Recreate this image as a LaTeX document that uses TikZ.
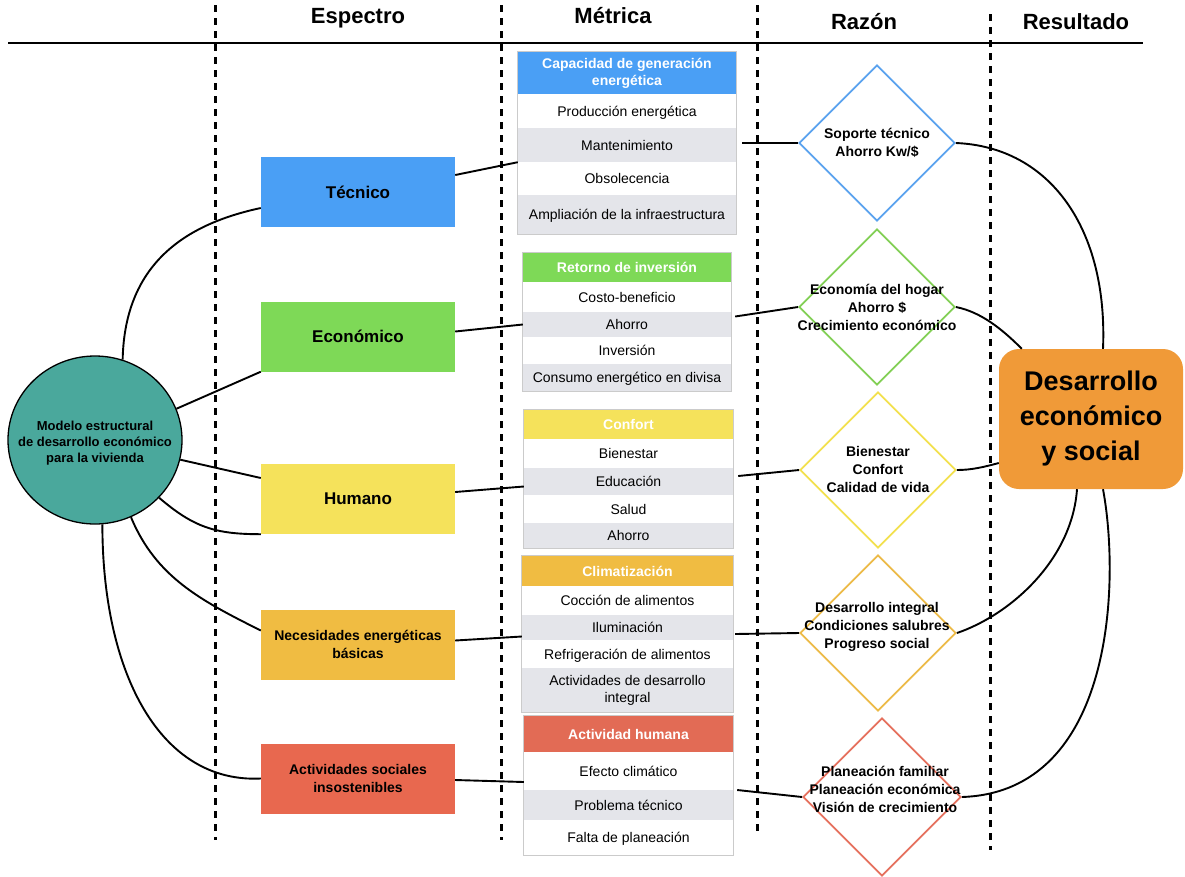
\documentclass[tikz,border=0pt]{standalone}
\usepackage{fontspec}
\setmainfont{Liberation Sans}
\usetikzlibrary{shapes.geometric,calc,fit}
\definecolor{cblue}{HTML}{4A9FF5}
\definecolor{cgreen}{HTML}{7ED957}
\definecolor{cyellow}{HTML}{F5E25B}
\definecolor{corange}{HTML}{F0BC42}
\definecolor{cred}{HTML}{E8684F}
\definecolor{dblue}{HTML}{5AA2EE}
\definecolor{dgreen}{HTML}{82CF55}
\definecolor{dyellow}{HTML}{F2E04E}
\definecolor{dorange}{HTML}{ECBA47}
\definecolor{dred}{HTML}{E5705D}
\definecolor{hred}{HTML}{E26B55}
\definecolor{cteal}{HTML}{4AA89C}
\definecolor{cres}{HTML}{F09A38}
\definecolor{rowgray}{HTML}{E4E5EA}
\definecolor{tabline}{HTML}{CBCBCB}
\begin{document}
\begin{tikzpicture}[x=1pt,y=-1pt,
  hdr/.style={font=\fontsize{22}{26}\selectfont\bfseries, inner sep=0pt},
  spec/.style={minimum width=194pt, minimum height=70pt, inner sep=2pt, align=center, font=\fontsize{17}{20}\selectfont\bfseries},
  spectwo/.style={spec, font=\fontsize{14}{18}\selectfont\bfseries},
  row/.style={inner sep=0pt, font=\fontsize{14}{17}\selectfont, text height=10pt, text depth=0pt},
  rowml/.style={inner sep=0pt, align=center, font=\fontsize{14}{17}\selectfont},
  thead/.style={row, text=white, font=\fontsize{14}{17}\selectfont\bfseries},
  theadml/.style={rowml, text=white, font=\fontsize{14}{17}\selectfont\bfseries},
  tabframe/.style={draw=tabline, line width=1pt, inner sep=0pt},
  dia/.style={diamond, aspect=1, inner sep=0pt, line width=1.8pt, minimum width=156pt, minimum height=156pt},
  diatext/.style={align=center, inner sep=0pt, font=\fontsize{14}{18}\selectfont\bfseries},
  conn/.style={line width=1.9pt, black},
  sep/.style={line width=3pt, dash pattern=on 7pt off 6pt}
]
\useasboundingbox (0,0) rectangle (1185,876);

% header and separators
\draw[line width=2.2pt] (8,43) -- (1143,43);
\draw[sep] (215,5) -- (215,840);
\draw[sep] (501,5) -- (501,840);
\draw[sep] (757,5) -- (757,835);
\draw[sep] (990,14) -- (990,850);
\node[hdr] (hEsp) at (358,18) {Espectro};
\node[hdr] (hMet) at (613,16) {Métrica};
\node[hdr] (hRaz) at (864,22) {Razón};
\node[hdr] (hRes) at (1076,22) {Resultado};

% model circle
\node[ellipse, draw=black, line width=1.3pt, fill=cteal, minimum width=174pt, minimum height=168pt, inner sep=0pt] (circ) at (95,440) {};
\node[align=center, inner sep=0pt, font=\fontsize{13}{16}\selectfont\bfseries] (circt) at (95,443) {Modelo estructural\\de desarrollo económico\\para la vivienda};

% spectrum boxes
\node[spec, fill=cblue] (tec) at (358,192) {Técnico};
\node[spec, fill=cgreen] (eco) at (358,336.5) {Económico};
\node[spec, fill=cyellow] (hum) at (358,499) {Humano};
\node[spectwo, fill=corange] (nec) at (358,644.5) {Necesidades energéticas\\básicas};
\node[spectwo, fill=cred] (act) at (358,778.5) {Actividades sociales\\insostenibles};

% table 1
\node[theadml, fill=cblue, minimum width=218pt, minimum height=42pt] (t1h) at (627,73) {Capacidad de generación\\energética};
\node[row, fill=white, minimum width=218pt, minimum height=34pt] (t1r1) at (627,111) {Producción energética};
\node[row, fill=rowgray, minimum width=218pt, minimum height=34pt] (t1r2) at (627,145) {Mantenimiento};
\node[row, fill=white, minimum width=218pt, minimum height=33pt] (t1r3) at (627,178.5) {Obsolecencia};
\node[row, fill=rowgray, minimum width=218pt, minimum height=39pt] (t1r4) at (627,214.5) {Ampliación de la infraestructura};
\node[tabframe, fit=(t1h)(t1r4)] (t1f) {};

% table 2
\node[thead, fill=cgreen, minimum width=208pt, minimum height=29pt] (t2h) at (627,267.5) {Retorno de inversión};
\node[row, fill=white, minimum width=208pt, minimum height=30pt] (t2r1) at (627,297) {Costo-beneficio};
\node[row, fill=rowgray, minimum width=208pt, minimum height=25pt] (t2r2) at (627,324.5) {Ahorro};
\node[row, fill=white, minimum width=208pt, minimum height=27pt] (t2r3) at (627,350.5) {Inversión};
\node[row, fill=rowgray, minimum width=208pt, minimum height=27pt] (t2r4) at (627,377.5) {Consumo energético en divisa};
\node[tabframe, fit=(t2h)(t2r4)] (t2f) {};

% table 3
\node[thead, fill=cyellow, minimum width=209pt, minimum height=29pt] (t3h) at (628.5,424.5) {Confort};
\node[row, fill=white, minimum width=209pt, minimum height=29pt] (t3r1) at (628.5,453.5) {Bienestar};
\node[row, fill=rowgray, minimum width=209pt, minimum height=27pt] (t3r2) at (628.5,481.5) {Educación};
\node[row, fill=white, minimum width=209pt, minimum height=28pt] (t3r3) at (628.5,509) {Salud};
\node[row, fill=rowgray, minimum width=209pt, minimum height=25pt] (t3r4) at (628.5,535.5) {Ahorro};
\node[tabframe, fit=(t3h)(t3r4)] (t3f) {};

% table 4
\node[thead, fill=corange, minimum width=211pt, minimum height=30pt] (t4h) at (627.5,571) {Climatización};
\node[row, fill=white, minimum width=211pt, minimum height=29pt] (t4r1) at (627.5,600.5) {Cocción de alimentos};
\node[row, fill=rowgray, minimum width=211pt, minimum height=25pt] (t4r2) at (627.5,627.5) {Iluminación};
\node[row, fill=white, minimum width=211pt, minimum height=28pt] (t4r3) at (627.5,654) {Refrigeración de alimentos};
\node[rowml, fill=rowgray, minimum width=211pt, minimum height=44pt] (t4r4) at (627.5,690) {Actividades de desarrollo\\integral};
\node[tabframe, fit=(t4h)(t4r4)] (t4f) {};

% table 5
\node[thead, fill=hred, minimum width=209pt, minimum height=36pt] (t5h) at (628.5,734) {Actividad humana};
\node[row, fill=white, minimum width=209pt, minimum height=38pt] (t5r1) at (628.5,771) {Efecto climático};
\node[row, fill=rowgray, minimum width=209pt, minimum height=30pt] (t5r2) at (628.5,805) {Problema técnico};
\node[row, fill=white, minimum width=209pt, minimum height=35pt] (t5r3) at (628.5,837.5) {Falta de planeación};
\node[tabframe, fit=(t5h)(t5r3)] (t5f) {};

% diamonds
\node[dia, draw=dblue] (d1) at (877,143) {};
\node[dia, draw=dgreen] (d2) at (877,307) {};
\node[dia, draw=dyellow] (d3) at (878,470) {};
\node[dia, draw=dorange] (d4) at (878,633) {};
\node[dia, draw=dred, minimum width=158pt, minimum height=158pt] (d5) at (882,797) {};
\node[diatext] (d1t) at (877,142.5) {Soporte técnico\\Ahorro Kw/\$};
\node[diatext] (d2t) at (877,307) {Economía del hogar\\Ahorro \$\\Crecimiento económico};
\node[diatext] (d3t) at (878,469) {Bienestar\\Confort\\Calidad de vida};
\node[diatext] (d4t) at (877,627) {Desarrollo integral\\Condiciones salubres\\Progreso social};
\node[diatext] (d5t) at (885,789) {Planeación familiar\\Planeación económica\\Visión de crecimiento};

% result
\node[rectangle, rounded corners=20pt, fill=cres, minimum width=184pt, minimum height=140pt, align=center, inner sep=0pt, font=\fontsize{27}{35}\selectfont\bfseries] (res) at (1091,419) {Desarrollo\\económico\\y social};

% circle to spectrum
\draw[conn] (circ.71) .. controls +(2,-100) and +(-70,15) .. ($(tec.west)+(0,16)$);
\draw[conn] (circ.21) -- (eco.south west);
\draw[conn] (circ.-13) -- ($(hum.west)+(0,-21)$);
\draw[conn] (circ.-42) .. controls +(35,30) and +(-45,0) .. (hum.south west);
\draw[conn] (circ.-65) .. controls +(25,60) and +(-60,-30) .. ($(nec.west)+(0,-14)$);
\draw[conn] (circ.-85) .. controls +(0,150) and +(-100,5) .. (act.west);

% spectrum to metrics
\draw[conn] ($(tec.east)+(0,-17)$) -- (t1r2.south west);
\draw[conn] ($(eco.east)+(0,-5)$) -- (t2r2.west);
\draw[conn] ($(hum.east)+(0,-7)$) -- ($(t3r2.west)+(0,5)$);
\draw[conn] ($(nec.east)+(0,-4)$) -- ($(t4r2.west)+(0,9)$);
\draw[conn] ($(act.east)+(0,1.5)$) -- ($(t5r1.west)+(0,11)$);

% metrics to diamonds
\draw[conn] ($(t1r2.east)+(6,-2)$) -- (d1.west);
\draw[conn] ($(t2r2.east)+(4,-8)$) -- (d2.west);
\draw[conn] ($(t3r2.east)+(5,-5.5)$) -- (d3.west);
\draw[conn] ($(t4r2.east)+(2,6.5)$) -- (d4.west);
\draw[conn] ($(t5r2.east)+(4,-15)$) -- (d5.west);

% diamonds to result
\draw[conn] (d1.east) .. controls +(95,4) and +(5,-119) .. ($(res.north)+(12,0)$);
\draw[conn] (d2.east) .. controls +(25,5) and +(-20,-20) .. ($(res.north west)+(23,0)$);
\draw[conn] (d3.east) .. controls +(15,0) and +(-15,4) .. ($(res.west)+(0,44)$);
\draw[conn] (d4.east) .. controls +(53,-18) and +(-5,71) .. ($(res.south)+(-14,0)$);
\draw[conn] (d5.east) .. controls +(153,-5) and +(17,91) .. ($(res.south)+(12,0)$);
\end{tikzpicture}
\end{document}
